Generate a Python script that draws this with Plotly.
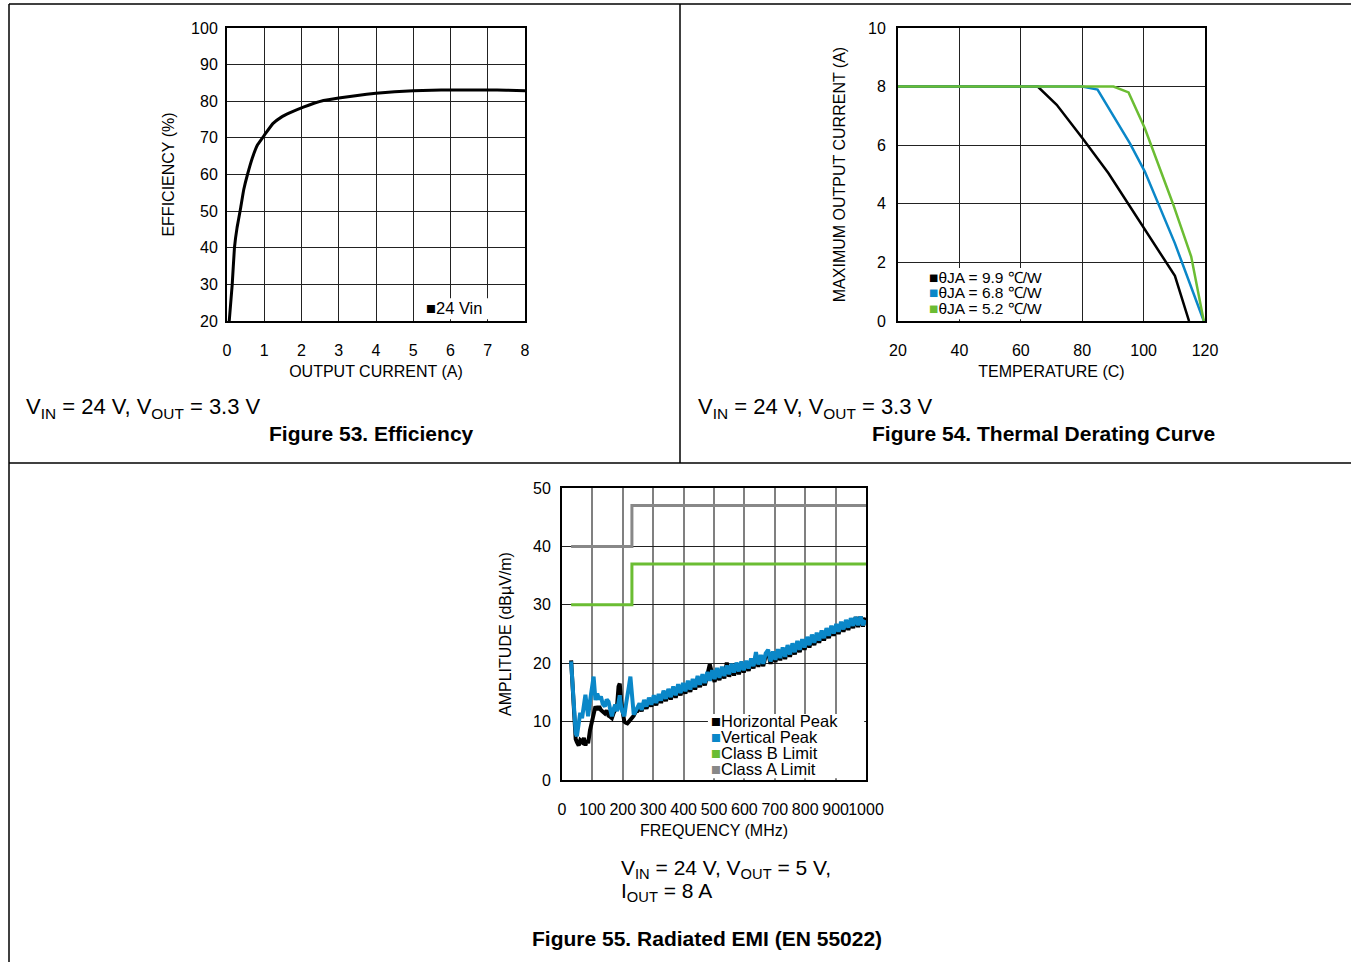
import plotly.graph_objects as go

W, H = 1351, 962

# ---------------- Figure 53: Efficiency ----------------
eff_current = [0.06, 0.14, 0.2, 0.27, 0.36, 0.45, 0.55, 0.68, 0.82, 1.0, 1.23, 1.45, 1.68, 2.05, 2.59, 3.0, 3.5, 4.0, 4.5, 5.0, 5.5, 6.0, 6.5, 7.0, 7.5, 8.0]
eff_value = [20.0, 30.0, 40.0, 45.5, 50.5, 55.9, 60.0, 64.5, 68.1, 70.7, 73.9, 75.6, 76.8, 78.4, 80.2, 80.9, 81.6, 82.2, 82.6, 82.9, 83.0, 83.1, 83.1, 83.1, 83.0, 82.9]
eff_legend = "24 Vin"

# ---------------- Figure 54: Thermal derating ----------------
temp_a = [20, 65.5, 71.7, 80.1, 88.5, 94.8, 100.4, 110.2, 114.8]
curr_a = [8.0, 8.0, 7.38, 6.24, 5.05, 4.02, 3.11, 1.54, 0.0]
temp_b = [20, 80, 85, 95.5, 100.4, 110.2, 119.6]
curr_b = [8.0, 8.0, 7.9, 6.07, 5.1, 2.65, 0.0]
temp_c = [20, 90.2, 95.1, 100.4, 109.5, 115.5, 119.6]
curr_c = [8.0, 8.0, 7.8, 6.58, 4.02, 2.2, 0.0]
derate_names = ["θJA = 9.9 ℃/W", "θJA = 6.8 ℃/W", "θJA = 5.2 ℃/W"]

# ---------------- Figure 55: Radiated EMI ----------------
emi_freq = [30, 35, 40, 45, 49, 55, 60, 66, 72, 77,
            82, 86, 92, 99, 104, 110, 116, 122, 128, 134,
            141, 147, 153, 159, 164, 170, 175, 181, 186, 190,
            195, 200, 205, 210, 215, 220, 225, 230, 236, 242,
            248, 255, 262, 270, 278, 286, 294, 302, 310, 318,
            326, 334, 342, 350, 358, 366, 374, 382, 390, 398,
            406, 414, 422, 430, 438, 446, 454, 462, 470, 478,
            486, 494, 502, 510, 518, 526, 534, 542, 550, 558,
            566, 574, 582, 590, 598, 606, 614, 622, 630, 638,
            646, 654, 662, 670, 678, 686, 694, 702, 710, 718,
            726, 734, 742, 750, 758, 766, 774, 782, 790, 798,
            806, 814, 822, 830, 838, 846, 854, 862, 870, 878,
            886, 894, 902, 910, 918, 926, 934, 942, 950, 958,
            966, 974, 982, 990, 998]
emi_vertical = [20.3, 15.5, 11.0, 8.0, 7.5, 9.5, 11.5, 10.6, 13.0, 14.6,
                12.5, 10.9, 13.5, 16.0, 17.7, 13.7, 14.8, 13.8, 14.3, 13.0,
                12.6, 13.8, 13.4, 12.0, 10.9, 12.2, 12.9, 11.8, 13.5, 14.5,
                12.2, 11.5, 10.9, 12.8, 14.0, 16.0, 17.7, 13.5, 11.2, 11.8,
                12.3, 13.1, 12.0, 13.7, 12.6, 14.1, 12.9, 14.5, 13.2, 14.7,
                13.6, 15.3, 13.9, 15.6, 14.2, 16.0, 14.5, 16.4, 14.9, 16.6,
                15.2, 17.0, 15.5, 17.3, 15.9, 17.8, 16.3, 18.1, 16.6, 18.5,
                17.0, 18.8, 17.3, 19.2, 17.5, 19.4, 17.8, 19.6, 18.1, 19.9,
                18.4, 20.1, 18.6, 20.3, 18.8, 20.4, 19.1, 20.8, 19.5, 21.9,
                19.8, 21.4, 19.9, 21.7, 22.3, 20.3, 22.0, 20.6, 22.4, 20.9,
                22.7, 21.1, 23.1, 21.5, 23.4, 21.9, 23.8, 22.3, 24.1, 22.7,
                24.5, 23.1, 24.9, 23.5, 25.2, 23.9, 25.6, 24.3, 26.0, 24.7,
                26.4, 25.1, 26.7, 25.4, 27.1, 25.8, 27.4, 26.1, 27.7, 26.4,
                27.9, 26.5, 28.0, 26.5, 27.4]
emi_horizontal = [20.5, 15.0, 10.0, 7.0, 6.5, 5.9, 6.8, 6.5, 7.2, 5.9,
                  6.8, 6.3, 8.5, 10.3, 11.5, 12.6, 12.0, 12.6, 12.0, 11.6,
                  11.4, 11.9, 11.0, 10.8, 10.6, 11.5, 12.0, 12.6, 16.0, 16.5,
                  13.2, 12.0, 10.0, 9.8, 9.7, 10.0, 10.3, 10.6, 11.0, 11.7,
                  11.8, 12.6, 11.8, 13.2, 12.2, 13.6, 12.6, 14.0, 12.8, 14.3,
                  13.2, 14.8, 13.5, 15.4, 13.8, 15.4, 14.1, 15.8, 14.5, 16.1,
                  14.8, 16.5, 15.1, 16.9, 15.5, 17.2, 15.9, 17.6, 16.2, 18.0,
                  19.8, 18.2, 16.8, 18.6, 17.1, 18.8, 17.4, 20.1, 17.7, 19.3,
                  17.9, 19.5, 18.1, 19.8, 18.4, 19.9, 18.7, 20.3, 19.1, 21.3,
                  19.4, 20.9, 19.5, 21.3, 21.8, 19.9, 21.6, 20.2, 21.9, 20.5,
                  22.3, 20.7, 22.7, 21.1, 23.0, 21.5, 23.4, 21.9, 23.7, 22.3,
                  24.1, 22.7, 24.5, 23.1, 24.8, 23.5, 25.2, 23.9, 25.6, 24.3,
                  26.0, 24.7, 26.3, 25.0, 26.7, 25.4, 27.0, 25.7, 27.3, 26.0,
                  27.9, 26.2, 28.0, 26.3, 27.8]
limit_freq = [30, 230, 230, 1000]
class_b_limit = [30, 30, 37, 37]
class_a_limit = [40, 40, 47, 47]
emi_names = ["Horizontal Peak", "Vertical Peak", "Class B Limit", "Class A Limit"]

# ---------------- styles ----------------
FONT = "Liberation Sans, Arial, sans-serif"
BLACK = "#000000"
BLUE = "#0a87c8"
GREEN = "#6bbd33"
GRAY = "#888888"


def px_x(p):
    return p / W


def px_y(p):
    return 1 - p / H


fig = go.Figure()

# Panel 1
fig.add_trace(go.Scatter(x=eff_current, y=eff_value, mode="lines",
                         line=dict(color=BLACK, width=3, shape="spline", smoothing=0.3),
                         name=eff_legend, showlegend=False, xaxis="x", yaxis="y"))
# Panel 2
for tx, cy, col, nm in [(temp_a, curr_a, BLACK, derate_names[0]), (temp_b, curr_b, BLUE, derate_names[1]),
                        (temp_c, curr_c, GREEN, derate_names[2])]:
    fig.add_trace(go.Scatter(x=tx, y=cy, mode="lines", line=dict(color=col, width=2.5), name=nm, showlegend=False,
                             xaxis="x2", yaxis="y2"))
# Panel 3
fig.add_trace(go.Scatter(x=limit_freq, y=class_a_limit, mode="lines", line=dict(color=GRAY, width=3), name=emi_names[3],
                         showlegend=False, xaxis="x3", yaxis="y3"))
fig.add_trace(go.Scatter(x=limit_freq, y=class_b_limit, mode="lines", line=dict(color=GREEN, width=3), name=emi_names[2],
                         showlegend=False, xaxis="x3", yaxis="y3"))
fig.add_trace(go.Scatter(x=emi_freq, y=emi_horizontal, mode="lines", line=dict(color=BLACK, width=4), name=emi_names[0],
                         showlegend=False, xaxis="x3", yaxis="y3"))
fig.add_trace(go.Scatter(x=emi_freq, y=emi_vertical, mode="lines", line=dict(color=BLUE, width=4), name=emi_names[1],
                         showlegend=False, xaxis="x3", yaxis="y3"))

tickfont = dict(family=FONT, size=16, color="#000")
titlefont = dict(family=FONT, size=16, color="#000")


def axis(domain, rng, dtick, title, anchor, gridcolor="#222", gridwidth=1, standoff_lbl=4, title_standoff=10):
    return dict(domain=domain, range=rng, dtick=dtick, tick0=rng[0], showline=True, mirror=True, linecolor="#000",
                linewidth=2, showgrid=True, gridcolor=gridcolor, gridwidth=gridwidth, zeroline=False, ticks="",
                tickangle=0, tickfont=tickfont, title=dict(text=title, font=titlefont, standoff=title_standoff),
                ticklabelstandoff=standoff_lbl, fixedrange=True, anchor=anchor, automargin=False)


fig.update_layout(
    template="none",
    width=W, height=H, margin=dict(l=0, r=0, t=0, b=0, pad=0, autoexpand=False),
    paper_bgcolor="white", plot_bgcolor="white",
    font=dict(family=FONT, color="#000"), showlegend=False,
    xaxis=axis([px_x(227), px_x(525)], [0, 8], 1, "OUTPUT CURRENT (A)", "y", standoff_lbl=14, title_standoff=8),
    yaxis=axis([px_y(321), px_y(28)], [20, 100], 10, "EFFICIENCY (%)", "x", standoff_lbl=4, title_standoff=12),
    xaxis2=axis([px_x(898), px_x(1205)], [20, 120], 20, "TEMPERATURE (C)", "y2", standoff_lbl=14, title_standoff=8),
    yaxis2=axis([px_y(321), px_y(28)], [0, 10], 2, "MAXIMUM OUTPUT CURRENT (A)", "x2", standoff_lbl=7, title_standoff=18),
    xaxis3=axis([px_x(562), px_x(866)], [0, 1000], 100, "FREQUENCY (MHz)", "y3", gridcolor="#808080", gridwidth=2,
                standoff_lbl=14, title_standoff=8),
    yaxis3=axis([px_y(780), px_y(488)], [0, 50], 10, "AMPLITUDE (dBµV/m)", "x3", standoff_lbl=6, title_standoff=17),
)

# Frame lines of the page
frame = dict(color="#000", width=1.5)
shapes = [
    dict(type="line", xref="paper", yref="paper", x0=px_x(9), x1=1, y0=px_y(4), y1=px_y(4), line=frame),
    dict(type="line", xref="paper", yref="paper", x0=px_x(9), x1=px_x(9), y0=px_y(4), y1=0, line=frame),
    dict(type="line", xref="paper", yref="paper", x0=px_x(680), x1=px_x(680), y0=px_y(4), y1=px_y(463), line=frame),
    dict(type="line", xref="paper", yref="paper", x0=px_x(9), x1=1, y0=px_y(463), y1=px_y(463), line=frame),
    # legend backgrounds hiding the grid
    dict(type="rect", xref="x domain", yref="y domain", x0=0.655, x1=0.885, y0=0.006, y1=0.078, layer="above",
         fillcolor="white", line=dict(width=0)),
    dict(type="rect", xref="x2 domain", yref="y2 domain", x0=0.006, x1=0.577, y0=0.006, y1=0.181, layer="above",
         fillcolor="white", line=dict(width=0)),
    dict(type="rect", xref="x3 domain", yref="y3 domain", x0=0.48, x1=0.994, y0=0.006, y1=0.226, layer="above",
         fillcolor="white", line=dict(width=0)),
]
fig.update_layout(shapes=shapes)


def sq(color):
    return f'<span style="color:{color}">■</span>'


ann = []
ann.append(dict(x=px_x(424), y=px_y(308), text=sq(BLACK) + eff_legend, font=dict(family=FONT, size=16.5)))
for i, (nm, col) in enumerate(zip(derate_names, [BLACK, BLUE, GREEN])):
    ann.append(dict(x=px_x(927), y=px_y(277 + 15.5 * i), text=sq(col) + nm, font=dict(family=FONT, size=15.5)))
for i, (nm, col) in enumerate(zip(emi_names, [BLACK, BLUE, GREEN, GRAY])):
    ann.append(dict(x=px_x(709), y=px_y(721 + 16 * i), text=sq(col) + nm, font=dict(family=FONT, size=16.5)))
for a in ann:
    a.update(xref="paper", yref="paper", xanchor="left", yanchor="middle", showarrow=False)

cap = dict(xref="paper", yref="paper", showarrow=False, yanchor="middle")
ann += [
    dict(x=px_x(24), y=px_y(408), xanchor="left", text="V<sub>IN</sub> = 24 V, V<sub>OUT</sub> = 3.3 V",
         font=dict(family=FONT, size=22), **cap),
    dict(x=px_x(371.5), y=px_y(434), xanchor="center", text="<b>Figure 53. Efficiency</b>",
         font=dict(family=FONT, size=21), **cap),
    dict(x=px_x(696), y=px_y(408), xanchor="left", text="V<sub>IN</sub> = 24 V, V<sub>OUT</sub> = 3.3 V",
         font=dict(family=FONT, size=22), **cap),
    dict(x=px_x(1043.5), y=px_y(434), xanchor="center", text="<b>Figure 54. Thermal Derating Curve</b>",
         font=dict(family=FONT, size=21), **cap),
    dict(x=px_x(619), y=px_y(869), xanchor="left", text="V<sub>IN</sub> = 24 V, V<sub>OUT</sub> = 5 V,",
         font=dict(family=FONT, size=21), **cap),
    dict(x=px_x(619), y=px_y(892), xanchor="left", text="I<sub>OUT</sub> = 8 A",
         font=dict(family=FONT, size=21), **cap),
    dict(x=px_x(707.5), y=px_y(938), xanchor="center", text="<b>Figure 55. Radiated EMI (EN 55022)</b>",
         font=dict(family=FONT, size=21), **cap),
]
fig.update_layout(annotations=ann)

fig.write_html("out.html", config=dict(displayModeBar=False),
               post_script="document.body.style.margin='0';document.body.style.padding='0';"
                           "document.documentElement.style.overflow='hidden';")
